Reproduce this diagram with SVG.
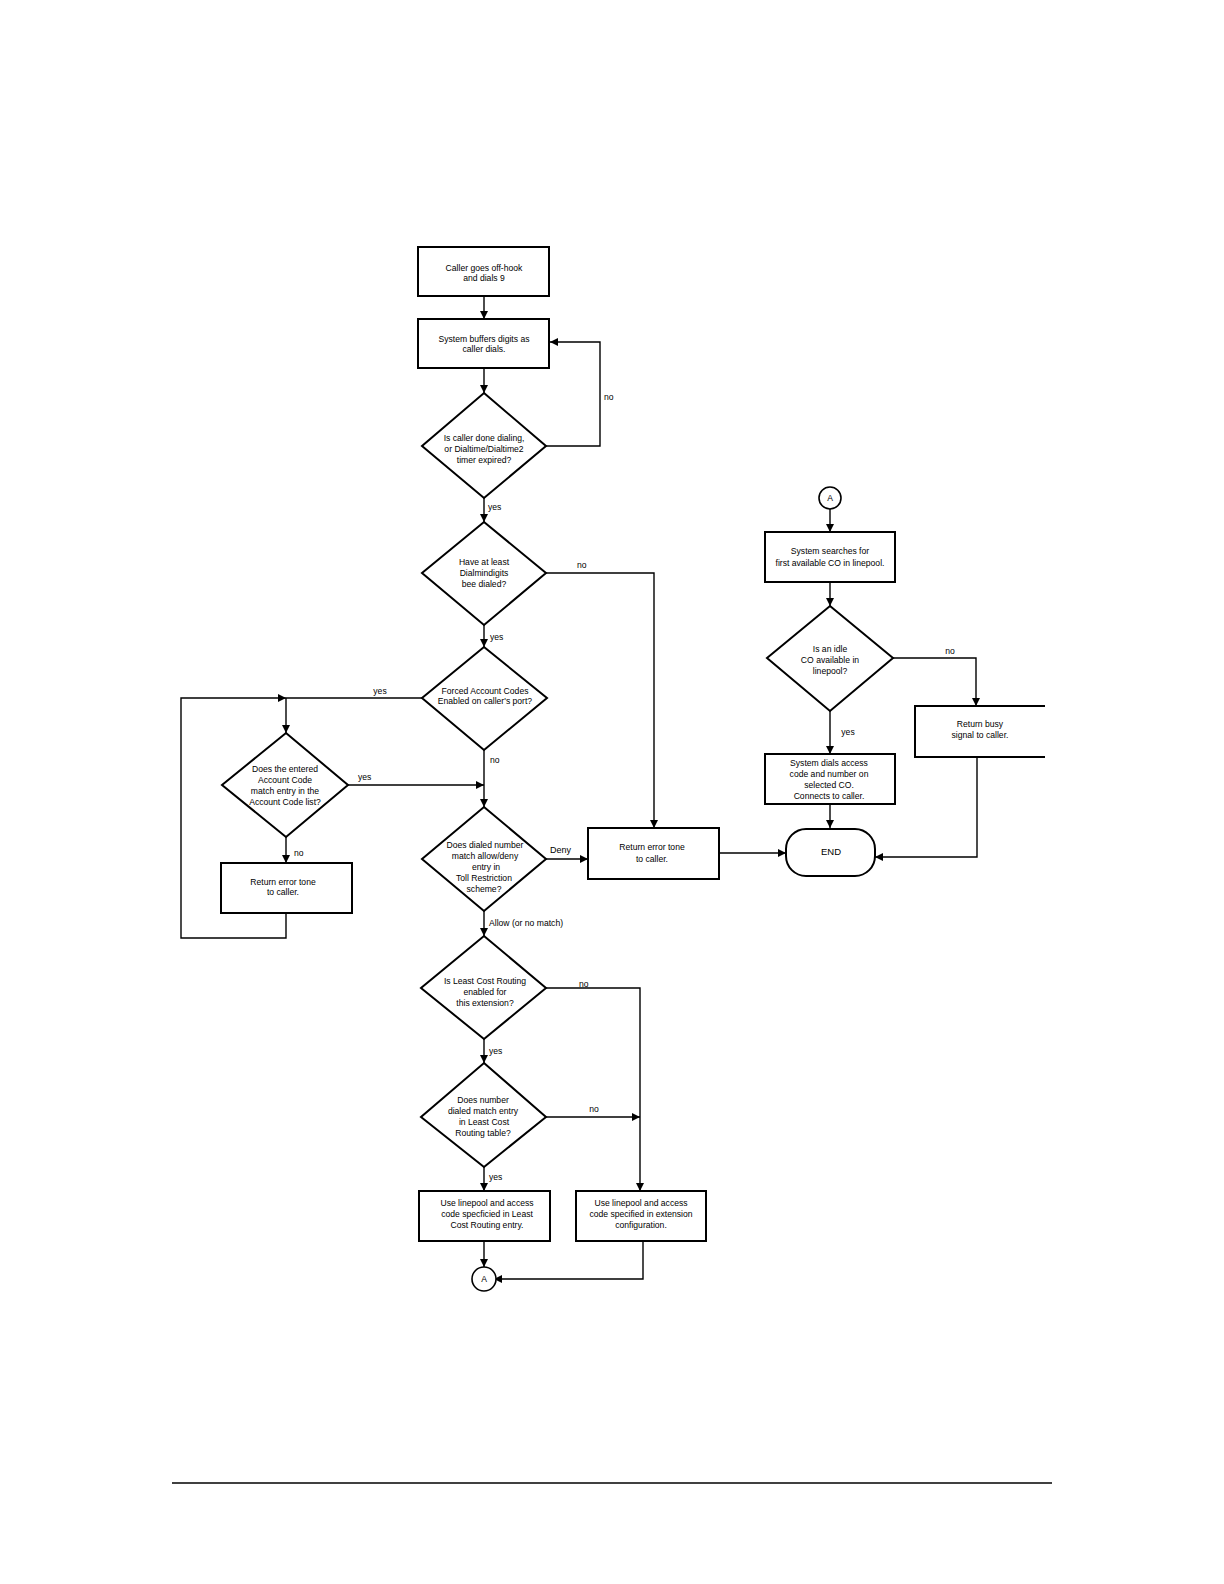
<svg xmlns="http://www.w3.org/2000/svg" width="1224" height="1584" viewBox="0 0 1224 1584">
<defs>
<marker id="ah" markerUnits="userSpaceOnUse" markerWidth="9" markerHeight="8" refX="8" refY="4" orient="auto">
<path d="M0,0 L8,4 L0,8 Z" fill="#000"/>
</marker>
<style>
.n{fill:#fff;stroke:#000;stroke-width:2}
.c{fill:none;stroke:#000;stroke-width:1.4}
.a{marker-end:url(#ah)}
text{font-family:"Liberation Sans",Arial,sans-serif;font-size:8.6px;fill:#000}
.m{text-anchor:middle}
</style>
</defs>
<rect width="1224" height="1584" fill="#fff"/>
<g id="connectors">
<path class="c a" d="M484,296 V319"/>
<path class="c a" d="M484,368 V393"/>
<path class="c a" d="M546,446 H600 V342 H550"/>
<path class="c a" d="M484,498 V522"/>
<path class="c a" d="M546,573 H654 V828"/>
<path class="c a" d="M484,625 V647"/>
<path class="c" d="M422,698 H286"/>
<path class="c a" d="M286,698 V733"/>
<path class="c a" d="M484,750 V807"/>
<path class="c a" d="M348,785 H484"/>
<path class="c a" d="M286,837 V863"/>
<path class="c a" d="M286,913 V938 H181 V698 H286"/>
<path class="c a" d="M546,859 H588"/>
<path class="c a" d="M719,853 H786"/>
<path class="c a" d="M484,911 V936"/>
<path class="c a" d="M546,988 H640 V1191"/>
<path class="c a" d="M484,1039 V1063"/>
<path class="c a" d="M546,1117 H640"/>
<path class="c a" d="M484,1167 V1191"/>
<path class="c a" d="M484,1241 V1267"/>
<path class="c a" d="M643,1241 V1279 H494"/>
<path class="c a" d="M830,509 V532"/>
<path class="c a" d="M830,582 V606"/>
<path class="c a" d="M893,658 H976 V706"/>
<path class="c a" d="M830,711 V754"/>
<path class="c a" d="M830,804 V828"/>
<path class="c a" d="M977,757 V857 H875"/>
</g>
<g id="labels">
<text x="604" y="400">no</text>
<text x="488" y="510">yes</text>
<text x="577" y="568">no</text>
<text x="490" y="640">yes</text>
<text x="380" y="694" class="m">yes</text>
<text x="490" y="763">no</text>
<text x="358" y="780">yes</text>
<text x="294" y="856">no</text>
<text x="550" y="853" style="font-size:9px">Deny</text>
<text x="489" y="926">Allow (or no match)</text>
<text x="579" y="987">no</text>
<text x="489" y="1054">yes</text>
<text x="594" y="1112" class="m">no</text>
<text x="489" y="1180">yes</text>
<text x="950" y="654" class="m">no</text>
<text x="848" y="735" class="m">yes</text>
</g>
<g id="start">
<rect class="n" x="418" y="247" width="131" height="49"/>
<text x="484" y="271" class="m">Caller goes off-hook</text>
<text x="484" y="281" class="m">and dials 9</text>
</g>
<g id="buffer">
<rect class="n" x="418" y="319" width="131" height="49"/>
<text x="484" y="342" class="m">System buffers digits as</text>
<text x="484" y="352" class="m">caller dials.</text>
</g>
<g id="dec-done">
<path class="n" d="M484,393 L546,446 L484,498 L422,446 Z"/>
<text x="484" y="441" class="m">Is caller done dialing,</text>
<text x="484" y="452" class="m">or Dialtime/Dialtime2</text>
<text x="484" y="463" class="m">timer expired?</text>
</g>
<g id="dec-min">
<path class="n" d="M484,522 L546,573 L484,625 L422,573 Z"/>
<text x="484" y="565" class="m">Have at least</text>
<text x="484" y="576" class="m">Dialmindigits</text>
<text x="484" y="587" class="m">bee dialed?</text>
</g>
<g id="dec-forced">
<path class="n" d="M484,647 L547,698 L484,750 L422,698 Z"/>
<text x="485" y="694" class="m">Forced Account Codes</text>
<text x="485" y="704" class="m">Enabled on caller's port?</text>
</g>
<g id="dec-acct">
<path class="n" d="M286,733 L348,785 L286,837 L222,785 Z"/>
<text x="285" y="772" class="m">Does the entered</text>
<text x="285" y="783" class="m">Account Code</text>
<text x="285" y="794" class="m">match entry in the</text>
<text x="285" y="805" class="m">Account Code list?</text>
</g>
<g id="err-left">
<rect class="n" x="221" y="863" width="131" height="50"/>
<text x="283" y="885" class="m">Return error tone</text>
<text x="283" y="895" class="m">to caller.</text>
</g>
<g id="dec-toll">
<path class="n" d="M484,807 L546,859 L484,911 L422,859 Z"/>
<text x="485" y="848" class="m">Does dialed number</text>
<text x="485" y="859" class="m">match allow/deny</text>
<text x="486" y="870" class="m">entry in</text>
<text x="484" y="881" class="m">Toll Restriction</text>
<text x="484" y="892" class="m">scheme?</text>
</g>
<g id="err-mid">
<rect class="n" x="588" y="828" width="131" height="51"/>
<text x="652" y="850" class="m">Return error tone</text>
<text x="652" y="862" class="m">to caller.</text>
</g>
<g id="dec-lcr">
<path class="n" d="M484,936 L546,988 L484,1039 L421,988 Z"/>
<text x="485" y="984" class="m">Is Least Cost Routing</text>
<text x="485" y="995" class="m">enabled for</text>
<text x="485" y="1006" class="m">this extension?</text>
</g>
<g id="dec-match">
<path class="n" d="M484,1063 L546,1117 L484,1167 L421,1117 Z"/>
<text x="483" y="1103" class="m">Does number</text>
<text x="483" y="1114" class="m">dialed match entry</text>
<text x="484" y="1125" class="m">in Least Cost</text>
<text x="483" y="1136" class="m">Routing table?</text>
</g>
<g id="use-lcr">
<rect class="n" x="419" y="1191" width="131" height="50"/>
<text x="487" y="1206" class="m">Use linepool and access</text>
<text x="487" y="1217" class="m">code specficied in Least</text>
<text x="487" y="1228" class="m">Cost Routing entry.</text>
</g>
<g id="use-ext">
<rect class="n" x="576" y="1191" width="130" height="50"/>
<text x="641" y="1206" class="m">Use linepool and access</text>
<text x="641" y="1217" class="m">code specified in extension</text>
<text x="641" y="1228" class="m">configuration.</text>
</g>
<g id="conn-a-bottom">
<circle class="n" cx="484" cy="1279" r="12" style="stroke-width:1.6"/>
<text x="484" y="1282" class="m">A</text>
</g>
<g id="conn-a-top">
<circle class="n" cx="830" cy="498" r="11" style="stroke-width:1.6"/>
<text x="830" y="501" class="m">A</text>
</g>
<g id="search">
<rect class="n" x="765" y="532" width="130" height="50"/>
<text x="830" y="554" class="m">System searches for</text>
<text x="830" y="566" class="m">first available CO in linepool.</text>
</g>
<g id="dec-idle">
<path class="n" d="M830,606 L893,658 L830,711 L767,658 Z"/>
<text x="830" y="652" class="m">Is an idle</text>
<text x="830" y="663" class="m">CO available in</text>
<text x="830" y="674" class="m">linepool?</text>
</g>
<g id="busy">
<path d="M1045,706 H915 V757 H1045" fill="#fff" stroke="#000" stroke-width="2"/>
<text x="980" y="727" class="m">Return busy</text>
<text x="980" y="738" class="m">signal to caller.</text>
</g>
<g id="dials">
<rect class="n" x="765" y="754" width="130" height="50"/>
<text x="829" y="766" class="m">System dials access</text>
<text x="829" y="777" class="m">code and number on</text>
<text x="829" y="788" class="m">selected CO.</text>
<text x="829" y="799" class="m">Connects to caller.</text>
</g>
<g id="end">
<rect class="n" x="786" y="829" width="89" height="47" rx="20" ry="20"/>
<text x="831" y="855" class="m" style="font-size:9.5px">END</text>
</g>
<g id="footer">
<line x1="172" y1="1483" x2="1052" y2="1483" stroke="#000" stroke-width="1.6"/>
</g>
</svg>
